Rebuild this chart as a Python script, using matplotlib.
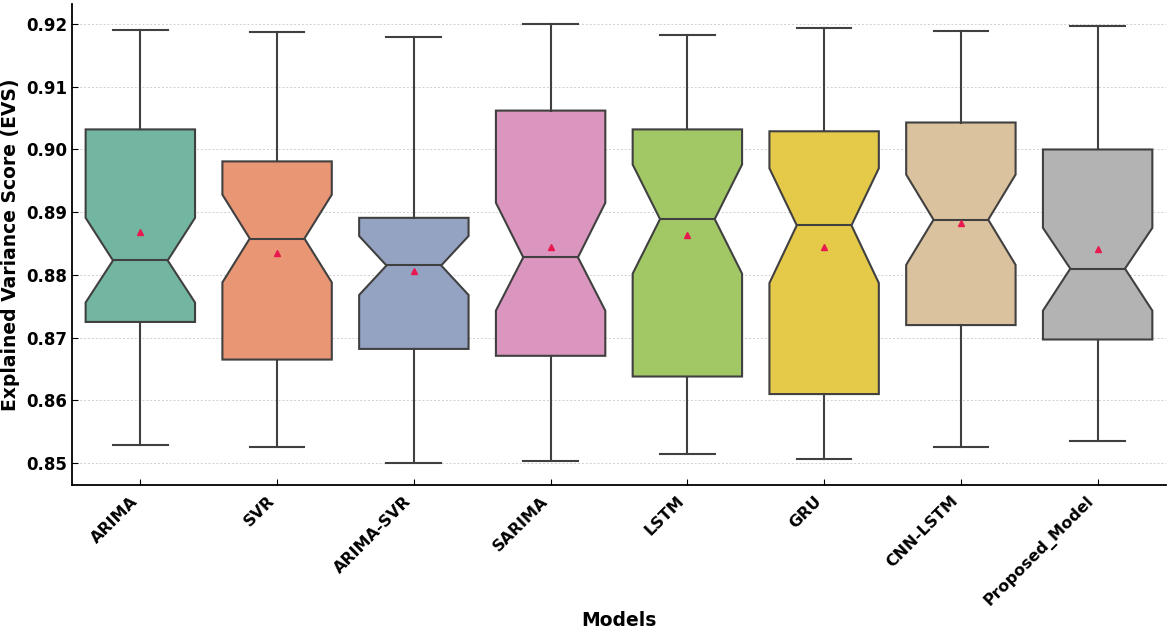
#!/usr/bin/env python3

import matplotlib
matplotlib.use("Agg")
import matplotlib.pyplot as plt
import seaborn as sns

models = ["ARIMA", "SVR", "ARIMA-SVR", "SARIMA", "LSTM", "GRU", "CNN-LSTM", "Proposed_Model"]

# box statistics
whis_low = [0.8529, 0.8526, 0.8500, 0.8504, 0.8514, 0.8506, 0.8526, 0.8535]
q1 = [0.8725, 0.8665, 0.8682, 0.8671, 0.8638, 0.8610, 0.8720, 0.8697]
ci_low = [0.8756, 0.8788, 0.8768, 0.8743, 0.8802, 0.8787, 0.8816, 0.8743]
median = [0.8823, 0.8858, 0.8815, 0.8828, 0.8889, 0.8879, 0.8888, 0.8810]
ci_high = [0.8891, 0.8928, 0.8862, 0.8915, 0.8976, 0.8970, 0.8960, 0.8875]
q3 = [0.9032, 0.8981, 0.8891, 0.9062, 0.9032, 0.9029, 0.9043, 0.9000]
whis_high = [0.9191, 0.9188, 0.9180, 0.9200, 0.9183, 0.9194, 0.9189, 0.9197]
means = [0.8869, 0.8835, 0.8807, 0.8845, 0.8864, 0.8845, 0.8883, 0.8842]


def main():
    stats = []
    for i, name in enumerate(models):
        stats.append({
            "label": name,
            "whislo": whis_low[i],
            "q1": q1[i],
            "cilo": ci_low[i],
            "med": median[i],
            "cihi": ci_high[i],
            "q3": q3[i],
            "whishi": whis_high[i],
            "mean": means[i],
            "fliers": [],
        })

    colors = [sns.desaturate(c, 0.75) for c in sns.color_palette("Set2", len(models))]
    edge = "#404040"

    fig, ax = plt.subplots(figsize=(11.7, 6.32), dpi=100)
    fig.subplots_adjust(left=0.0615, right=0.9966, bottom=0.2326, top=0.9937)

    bp = ax.bxp(
        stats, positions=range(len(models)), widths=0.8, patch_artist=True,
        shownotches=True, showmeans=True, showfliers=False,
        boxprops=dict(edgecolor=edge, linewidth=1.5),
        medianprops=dict(color=edge, linewidth=1.5),
        whiskerprops=dict(color=edge, linewidth=1.5),
        capprops=dict(color=edge, linewidth=1.5),
        meanprops=dict(marker="^", markerfacecolor="#e8194f", markeredgecolor="#e8194f",
                       markersize=5),
    )
    for patch, c in zip(bp["boxes"], colors):
        patch.set_facecolor(c)

    ax.set_xlim(-0.5, 7.5)
    ax.set_ylim(0.8465, 0.9232)
    ax.set_yticks([0.85, 0.86, 0.87, 0.88, 0.89, 0.90, 0.91, 0.92])
    ax.set_yticklabels(["%.2f" % v for v in ax.get_yticks()], fontsize=12, fontweight="bold")
    ax.set_xticks(range(len(models)))
    ax.set_xticklabels(models, rotation=45, ha="right", fontsize=11.5, fontweight="bold")
    ax.tick_params(direction="in", length=4)
    ax.tick_params(axis="x", pad=6)

    ax.set_xlabel("Models", fontsize=13.5, fontweight="bold")
    ax.xaxis.set_label_coords(0.5, -0.262)
    ax.set_ylabel("Explained Variance Score (EVS)", fontsize=13.5, fontweight="bold")

    ax.yaxis.grid(True, linestyle=(0, (2, 2)), color="#d0d0d0", linewidth=0.7)
    ax.set_axisbelow(True)
    ax.spines["top"].set_visible(False)
    ax.spines["right"].set_visible(False)
    ax.spines["left"].set_linewidth(1.3)
    ax.spines["bottom"].set_linewidth(1.3)

    fig.savefig("out.png", dpi=100)


if __name__ == "__main__":
    main()
